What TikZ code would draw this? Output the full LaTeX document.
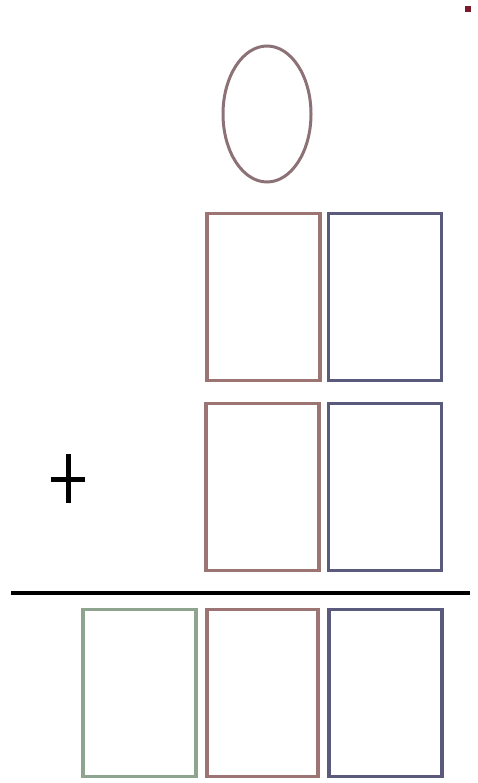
\documentclass[tikz,border=0pt]{standalone}
\usetikzlibrary{shapes.geometric}
\definecolor{cEll}{HTML}{8C7276}
\definecolor{cRed}{HTML}{9C7474}
\definecolor{cBlue}{HTML}{5A5A7C}
\definecolor{cGreen}{HTML}{8EA48E}
\definecolor{cDot}{HTML}{7A1A2A}
\tikzset{
  cell/.style={draw, rectangle, line width=3.6pt, minimum width=113pt, minimum height=167pt, inner sep=0pt, fill=white},
  oval/.style={draw=cEll, ellipse, line width=3pt, minimum width=88pt, minimum height=136pt, inner sep=0pt},
  rule/.style={line width=4.5pt, black},
  plusbar/.style={line width=5pt, black}
}
\begin{document}
\begin{tikzpicture}[x=1pt,y=-1pt]
\useasboundingbox (0,0) rectangle (477,783);
\node[oval] (ell) at (267,114) {};
\node[cell, draw=cRed] (a1) at (263.5,297) {};
\node[cell, draw=cBlue] (b1) at (385,297) {};
\node[cell, draw=cRed] (a2) at (262.5,487) {};
\node[cell, draw=cBlue] (b2) at (385,487) {};
\coordinate (pt) at (68,454);
\coordinate (pb) at (68,503);
\coordinate (pl) at (51,479);
\coordinate (pr) at (85,479);
\draw[plusbar] (pt) -- (pb);
\draw[plusbar] (pl) -- (pr);
\coordinate (ls) at (11,593);
\coordinate (le) at (470,593);
\draw[rule] (ls) -- (le);
\node[cell, draw=cGreen] (c0) at (139.5,693) {};
\node[cell, draw=cRed, minimum width=111pt] (c1) at (262.5,693) {};
\node[cell, draw=cBlue] (c2) at (385.5,693) {};
\fill[cDot] (465,6) rectangle (471,12);
\end{tikzpicture}
\end{document}
